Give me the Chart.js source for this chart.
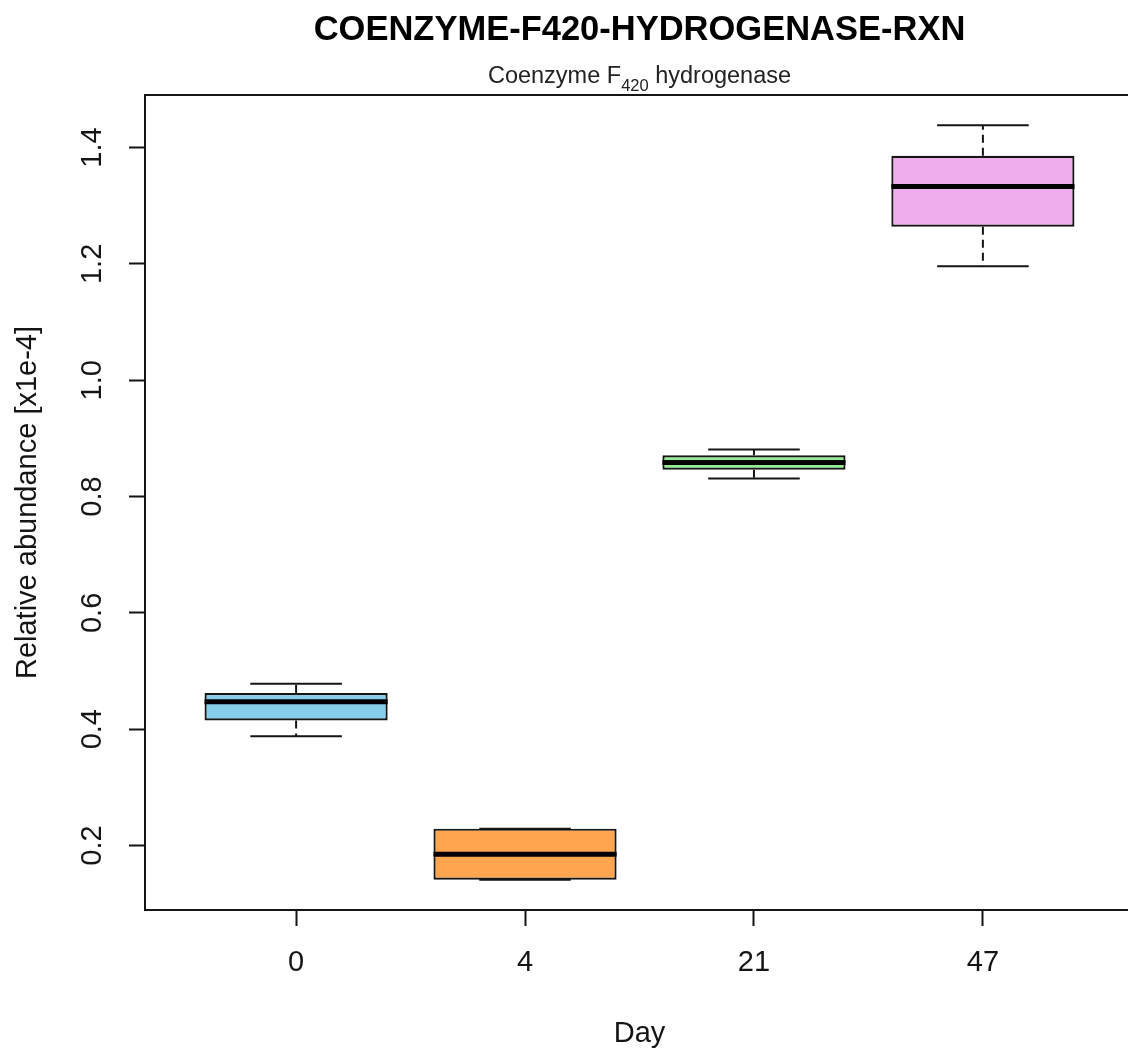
<!DOCTYPE html>
<html>
<head>
<meta charset="utf-8">
<script src="https://cdn.jsdelivr.net/npm/chart.js@4"></script>
<style>
  html, body { margin: 0; padding: 0; background: #fff; overflow: hidden; }
  #wrap { position: absolute; left: 0; top: 0; width: 1280px; height: 1055px; }
</style>
</head>
<body>
<div id="wrap"><canvas id="c" width="1280" height="1055"></canvas></div>
<script>
// Box-plot summary per sampling day (relative abundance, x1e-4)
const days = ['0', '4', '21', '47'];
const whiskerLow   = [0.388, 0.141, 0.831, 1.196];
const quartileLow  = [0.415, 0.141, 0.846, 1.264];
const medians      = [0.447, 0.185, 0.8585, 1.333];
const quartileHigh = [0.462, 0.229, 0.871, 1.386];
const whiskerHigh  = [0.478, 0.229, 0.881, 1.4385];
const boxColors = ['#87CEEB', '#FFA54F', '#90EE90', '#EEAEEE'];
const yTicks = [0.2, 0.4, 0.6, 0.8, 1.0, 1.2, 1.4];

const mainTitle = 'COENZYME-F420-HYDROGENASE-RXN';
const subtitleParts = ['Coenzyme F', '420', ' hydrogenase'];
const xTitle = 'Day';
const yTitle = 'Relative abundance [x1e-4]';

const FONT = '"Liberation Sans", Arial, Helvetica, sans-serif';
const INK = '#151515';
const AXIS_SIZE = 29;

// Axis limits padded by 4% of the data range on each side
const lo = Math.min(...whiskerLow), hi = Math.max(...whiskerHigh);
const pad = (hi - lo) * 0.04;
const xPad = days.length * 0.04;

// Whiskers, staples, medians and the frame around the plotting region
const boxplotExtras = {
  id: 'boxplotExtras',
  beforeDatasetsDraw(chart) {
    const { ctx, chartArea: a, scales: { x, y } } = chart;
    const meta = chart.getDatasetMeta(0);
    ctx.save();
    ctx.strokeStyle = INK;
    ctx.lineWidth = 2;
    ctx.strokeRect(a.left, a.top, a.right - a.left, a.bottom - a.top);
    days.forEach((d, i) => {
      const cx = x.getPixelForValue(i + 1);
      const w = meta.data[i].width;
      const yq1 = y.getPixelForValue(quartileLow[i]);
      const yq3 = y.getPixelForValue(quartileHigh[i]);
      const ylo = y.getPixelForValue(whiskerLow[i]);
      const yhi = y.getPixelForValue(whiskerHigh[i]);
      ctx.lineWidth = 2;
      ctx.setLineDash([8, 5]);
      ctx.beginPath();
      ctx.moveTo(cx, yq3); ctx.lineTo(cx, yhi);
      ctx.moveTo(cx, yq1); ctx.lineTo(cx, ylo);
      ctx.stroke();
      ctx.setLineDash([]);
      ctx.beginPath();
      ctx.moveTo(cx - w / 4, yhi); ctx.lineTo(cx + w / 4, yhi);
      ctx.moveTo(cx - w / 4, ylo); ctx.lineTo(cx + w / 4, ylo);
      ctx.stroke();
    });
    ctx.restore();
  },
  afterDatasetsDraw(chart) {
    const { ctx, scales: { x, y } } = chart;
    const meta = chart.getDatasetMeta(0);
    ctx.save();
    ctx.strokeStyle = '#000';
    ctx.lineWidth = 5;
    ctx.lineCap = 'butt';
    days.forEach((d, i) => {
      const cx = x.getPixelForValue(i + 1);
      const w = meta.data[i].width;
      const ym = y.getPixelForValue(medians[i]);
      ctx.beginPath();
      ctx.moveTo(cx - w / 2, ym); ctx.lineTo(cx + w / 2, ym);
      ctx.stroke();
    });
    ctx.restore();
  },
  afterDraw(chart) {
    const { ctx, chartArea: a } = chart;
    const cx = (a.left + a.right) / 2;
    ctx.save();
    ctx.fillStyle = '#000';
    ctx.textBaseline = 'alphabetic';
    ctx.textAlign = 'center';
    ctx.font = 'bold 34.5px ' + FONT;
    ctx.fillText(mainTitle, cx, 40);

    // subtitle with subscripted cofactor number
    const mainFont = '23.5px ' + FONT, subFont = '16.5px ' + FONT;
    ctx.textAlign = 'left';
    ctx.font = mainFont;
    const w0 = ctx.measureText(subtitleParts[0]).width;
    const w2 = ctx.measureText(subtitleParts[2]).width;
    ctx.font = subFont;
    const w1 = ctx.measureText(subtitleParts[1]).width;
    let sx = cx - (w0 + w1 + w2) / 2;
    ctx.fillStyle = '#222';
    ctx.font = mainFont;
    ctx.fillText(subtitleParts[0], sx, 83);
    ctx.font = subFont;
    ctx.fillText(subtitleParts[1], sx + w0, 91);
    ctx.font = mainFont;
    ctx.fillText(subtitleParts[2], sx + w0 + w1, 83);
    ctx.restore();
  }
};

new Chart(document.getElementById('c'), {
  type: 'bar',
  data: {
    datasets: [{
      data: days.map((d, i) => ({ x: i + 1, y: [quartileLow[i], quartileHigh[i]] })),
      backgroundColor: boxColors,
      borderColor: INK,
      borderWidth: 2.2,
      borderSkipped: false,
      barPercentage: 1,
      categoryPercentage: 0.8
    }]
  },
  options: {
    responsive: false,
    animation: false,
    layout: { padding: { top: 95, right: 146, left: 0, bottom: 0 } },
    plugins: { legend: { display: false }, tooltip: { enabled: false }, title: { display: false } },
    scales: {
      x: {
        type: 'linear',
        offset: false,
        min: 0.5 - xPad,
        max: days.length + 0.5 + xPad,
        afterBuildTicks: s => { s.ticks = days.map((d, i) => ({ value: i + 1 })); },
        afterFit: s => { s.height = 145; },
        ticks: {
          callback: v => days[v - 1],
          font: { family: FONT, size: AXIS_SIZE },
          color: INK,
          padding: 20,
          maxRotation: 0,
          autoSkip: false
        },
        grid: { offset: false, drawOnChartArea: false, drawTicks: true, tickLength: 16, tickWidth: 2, tickColor: INK },
        border: { display: false },
        title: { display: true, text: xTitle, font: { family: FONT, size: AXIS_SIZE }, color: INK, padding: { top: 0, bottom: 4 } }
      },
      y: {
        type: 'linear',
        min: lo - pad,
        max: hi + pad,
        afterBuildTicks: s => { s.ticks = yTicks.map(v => ({ value: v })); },
        afterFit: s => { s.width = 145; },
        ticks: {
          callback: v => v.toFixed(1),
          font: { family: FONT, size: AXIS_SIZE },
          color: INK,
          padding: 16,
          minRotation: 90,
          maxRotation: 90,
          crossAlign: 'center',
          autoSkip: false
        },
        grid: { drawOnChartArea: false, drawTicks: true, tickLength: 16, tickWidth: 2, tickColor: INK },
        border: { display: false },
        title: { display: true, text: yTitle, font: { family: FONT, size: AXIS_SIZE }, color: INK, padding: { top: 10.5, bottom: 0 } }
      }
    }
  },
  plugins: [boxplotExtras]
});
</script>
</body>
</html>
